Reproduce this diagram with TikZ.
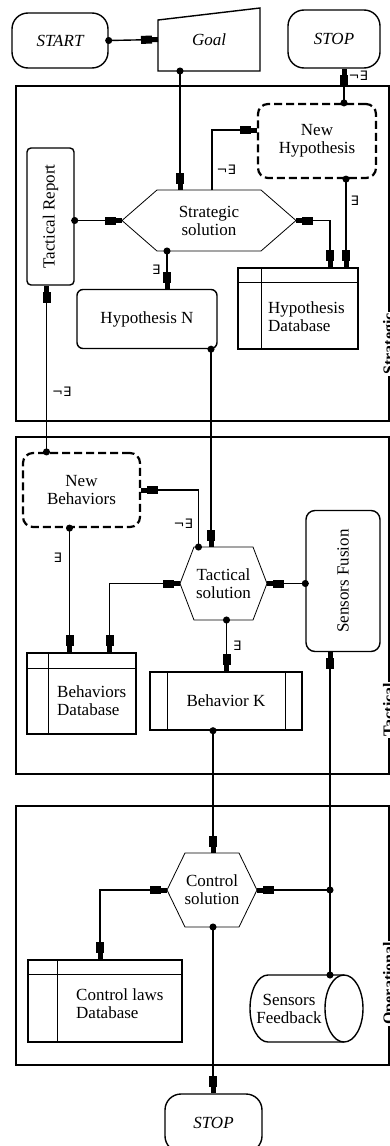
\documentclass[tikz,border=0pt]{standalone}
\usepackage{amsmath,amssymb}
\usepackage{graphicx}
\usepackage{fontspec}
\setmainfont{Liberation Serif}
\newfontfamily\qfont{DejaVu Sans}
\usetikzlibrary{arrows.meta, positioning, calc, shapes.geometric}

\begin{document}
\begin{tikzpicture}[
    x=1pt, y=-1pt,
    font=\fontsize{17}{18}\selectfont,
    lw/.style={line width=1.4pt},
    term/.style n args={2}{
        rectangle, rounded corners=16pt, draw, lw,
        font=\fontsize{17}{18}\selectfont\itshape,
        minimum width=#1, minimum height=#2, inner sep=0pt
    },
    plainbox/.style n args={3}{
        rectangle, rounded corners=#3, draw, lw, align=center,
        minimum width=#1, minimum height=#2, inner sep=2pt
    },
    newbox/.style n args={2}{
        rectangle, rounded corners=10pt, draw, line width=2.2pt,
        dash pattern=on 8pt off 4pt, align=center,
        minimum width=#1, minimum height=#2
    },
    hexnode/.style n args={2}{
        rectangle, align=center, inner sep=0pt, outer sep=0pt,
        minimum width=#1, minimum height=#2
    },
    hexline/.style={line width=0.8pt},
    dbbox/.style n args={2}{
        rectangle, draw, lw, align=center,
        minimum width=#1, minimum height=#2
    },
    dbtext/.style={anchor=west, align=left, inner sep=0pt},
    layertag/.style={
        rotate=90, anchor=north west, fill=white, inner sep=1pt,
        font=\fontsize{16}{18}\selectfont\bfseries
    },
    qlabel/.style={font=\fontsize{13}{15}\selectfont\qfont, inner sep=1pt},
    flow/.style={
        {Circle[length=7pt]}-{Rectangle[length=11pt,width=8pt]Rectangle[length=6pt,width=5pt]},
        lw, shorten <=-3.5pt
    },
    link/.style={
        -{Rectangle[length=11pt,width=8pt]Rectangle[length=6pt,width=5pt]}, lw
    },
    dblink/.style={
        {Rectangle[length=6pt,width=5pt]Rectangle[length=11pt,width=8pt]}-{Rectangle[length=11pt,width=8pt]Rectangle[length=6pt,width=5pt]},
        lw
    },
]

\useasboundingbox (0,0) rectangle (390,1146);

% ============================================================
% Layers
% ============================================================

\node[dbbox={373pt}{335pt}] (Strat) at (202.5,253.5) {};
\node[dbbox={373pt}{337pt}] (Tact)  at (202.5,605.5) {};
\node[dbbox={373pt}{259pt}] (Oper)  at (202.5,935.5) {};

\node[layertag] (StratTag) at ([xshift=-8pt,yshift=46pt]Strat.south east) {Strategic};
\node[layertag] (TactTag)  at ([xshift=-8pt,yshift=37pt]Tact.south east) {Tactical};
\node[layertag] (OperTag)  at ([xshift=-8pt,yshift=40pt]Oper.south east) {Operational};

% ============================================================
% Top row
% ============================================================

\node[term={96pt}{55pt}] (StartN) at (60,40.5) {START};
\node[hexnode={102pt}{63pt}, font=\fontsize{17}{18}\selectfont\itshape] (Goal) at (209,39.5) {Goal};
\draw[lw] (Goal.south west) -- (Goal.south east) -- (Goal.north east)
    -- ([yshift=-12pt]Goal.north west) -- cycle;
\node[term={92pt}{58pt}] (StopA) at (334,39) {STOP};

% ============================================================
% Strategic layer
% ============================================================

\node[newbox={118pt}{74pt}] (NewHyp) at (317,141) {New\\Hypothesis};
\node[hexnode={174pt}{61pt}] (StratSol) at (209,220.5) {Strategic\\solution};
\node[plainbox={47pt}{137pt}{4pt}] (TactRep) at (50.5,216.5) {\rotatebox{90}{Tactical Report}};
\node[plainbox={140pt}{59pt}{6pt}] (HypN) at (147,319) {Hypothesis N};
\node[dbbox={120pt}{81pt}] (HypDB) at (298,308.5) {};
\node[dbtext] (HypDBtxt) at (268,317) {Hypothesis\\Database};

% ============================================================
% Tactical layer
% ============================================================

\node[newbox={117pt}{74pt}] (NewBeh) at (81.5,490) {New\\Behaviors};
\node[hexnode={87pt}{73pt}] (TactSol) at (223.5,583.5) {Tactical\\solution};
\node[plainbox={74pt}{141pt}{9pt}] (SensFus) at (343,581) {\rotatebox{90}{Sensors Fusion}};
\node[dbbox={109pt}{81pt}] (BehDB) at (81.5,693.5) {};
\node[dbtext] (BehDBtxt) at (57,701) {Behaviors\\Database};
\node[dbbox={152pt}{58pt}] (BehK) at (226,701) {Behavior K};
\draw[lw] ([xshift=18pt]BehK.north west) -- ([xshift=18pt]BehK.south west);
\draw[lw] ([xshift=-17pt]BehK.north east) -- ([xshift=-17pt]BehK.south east);

% ============================================================
% Operational layer
% ============================================================

\node[hexnode={90pt}{74pt}] (CtrlSol) at (212,890) {Control\\solution};
\node[dbbox={154pt}{82pt}] (CtrlDB) at (105,1001) {};
\node[dbtext] (CtrlDBtxt) at (76,1004) {Control laws\\Database};
\node[hexnode={78pt}{67pt}] (SensFb) at (289,1008.5) {Sensors\\Feedback};
\draw[lw] ([xshift=16pt]SensFb.north east) -- ([xshift=18pt]SensFb.north west)
    arc[start angle=90, end angle=270, x radius=18pt, y radius=33.5pt]
    -- ([xshift=16pt]SensFb.south east);
\draw[lw] ([xshift=16pt]SensFb.east) ellipse [x radius=19pt, y radius=33.5pt];
\node[term={97pt}{58pt}] (StopB) at (213.5,1123) {STOP};

% hexagon outlines and database rulings
\foreach \n/\ch in {StratSol/35, TactSol/14, CtrlSol/18}
    \draw[hexline] (\n.west) -- ([xshift=\ch pt]\n.north west) -- ([xshift=-\ch pt]\n.north east)
        -- (\n.east) -- ([xshift=-\ch pt]\n.south east) -- ([xshift=\ch pt]\n.south west) -- cycle;
\foreach \n/\dx/\dy in {HypDB/24/15, BehDB/22/16, CtrlDB/30/15} {
    \draw[lw] ([xshift=\dx pt]\n.north west) -- ([xshift=\dx pt]\n.south west);
    \draw[lw] ([yshift=-\dy pt]\n.north west) -- ([yshift=-\dy pt]\n.north east);
}

% ============================================================
% Connectors
% ============================================================

\draw[flow] (StartN.east) -- (Goal.west);
\draw[flow] ([xshift=-29pt]Goal.south) -- ([xshift=-29pt]Goal.south |- StratSol.north);
\draw[flow] ([xshift=27pt]NewHyp.north) -- ([xshift=27pt]NewHyp.north |- StopA.south)
    node[qlabel, pos=0.78, right=3pt] {¬∃};
\draw[link] ([xshift=3pt]StratSol.north) |- ([yshift=11pt]NewHyp.west)
    node[qlabel, pos=0.17, right=3pt] {¬∃};
\draw[flow] ([xshift=29pt]NewHyp.south) -- ([xshift=29pt]NewHyp.south |- HypDB.north)
    node[qlabel, pos=0.25, right=3pt] {∃};
\draw[dblink] (StratSol.east) -| ([xshift=32pt]HypDB.north);
\draw[flow] (StratSol.west -| TactRep.east) -- (StratSol.west);
\draw[flow] ([xshift=-42pt]StratSol.south) -- ([xshift=-42pt]StratSol.south |- HypN.north)
    node[qlabel, midway, left=5pt] {∃};
\draw[flow] ([xshift=64pt]HypN.south) -- ([xshift=64pt]HypN.south |- TactSol.north);
\draw[flow] ([xshift=-35pt]NewBeh.north) -- ([xshift=-35pt]NewBeh.north |- TactRep.south)
    node[qlabel, pos=0.36, right=4pt] {¬∃};

\draw[flow] ([xshift=-25pt]TactSol.north) |- (NewBeh.east)
    node[qlabel, pos=0.2, left=4pt] {¬∃};
\draw[flow] ([xshift=-12pt]NewBeh.south) -- ([xshift=-12pt]NewBeh.south |- BehDB.north)
    node[qlabel, pos=0.24, left=6pt] {∃};
\draw[dblink] (TactSol.west) -| ([xshift=28pt]BehDB.north);
\draw[flow] (TactSol.east -| SensFus.west) -- (TactSol.east);
\draw[flow] ([xshift=3pt]TactSol.south) -- ([xshift=3pt]TactSol.south |- BehK.north)
    node[qlabel, midway, right=5pt] {∃};
\draw[flow] ([xshift=-13pt]BehK.south) -- ([xshift=-13pt]BehK.south |- CtrlSol.north);

\draw[dblink] (CtrlSol.west) -| ([xshift=-5pt]CtrlDB.north);
\coordinate (FbJoin) at ([xshift=-13pt]SensFus.south |- CtrlSol.east);
\draw[flow] ([xshift=-13pt]SensFus.south |- SensFb.north) -- ([xshift=-13pt]SensFus.south);
\draw[flow] (FbJoin) -- (CtrlSol.east);
\draw[flow] ([xshift=1pt]CtrlSol.south) -- ([xshift=1pt]CtrlSol.south |- StopB.north);

\end{tikzpicture}
\end{document}
